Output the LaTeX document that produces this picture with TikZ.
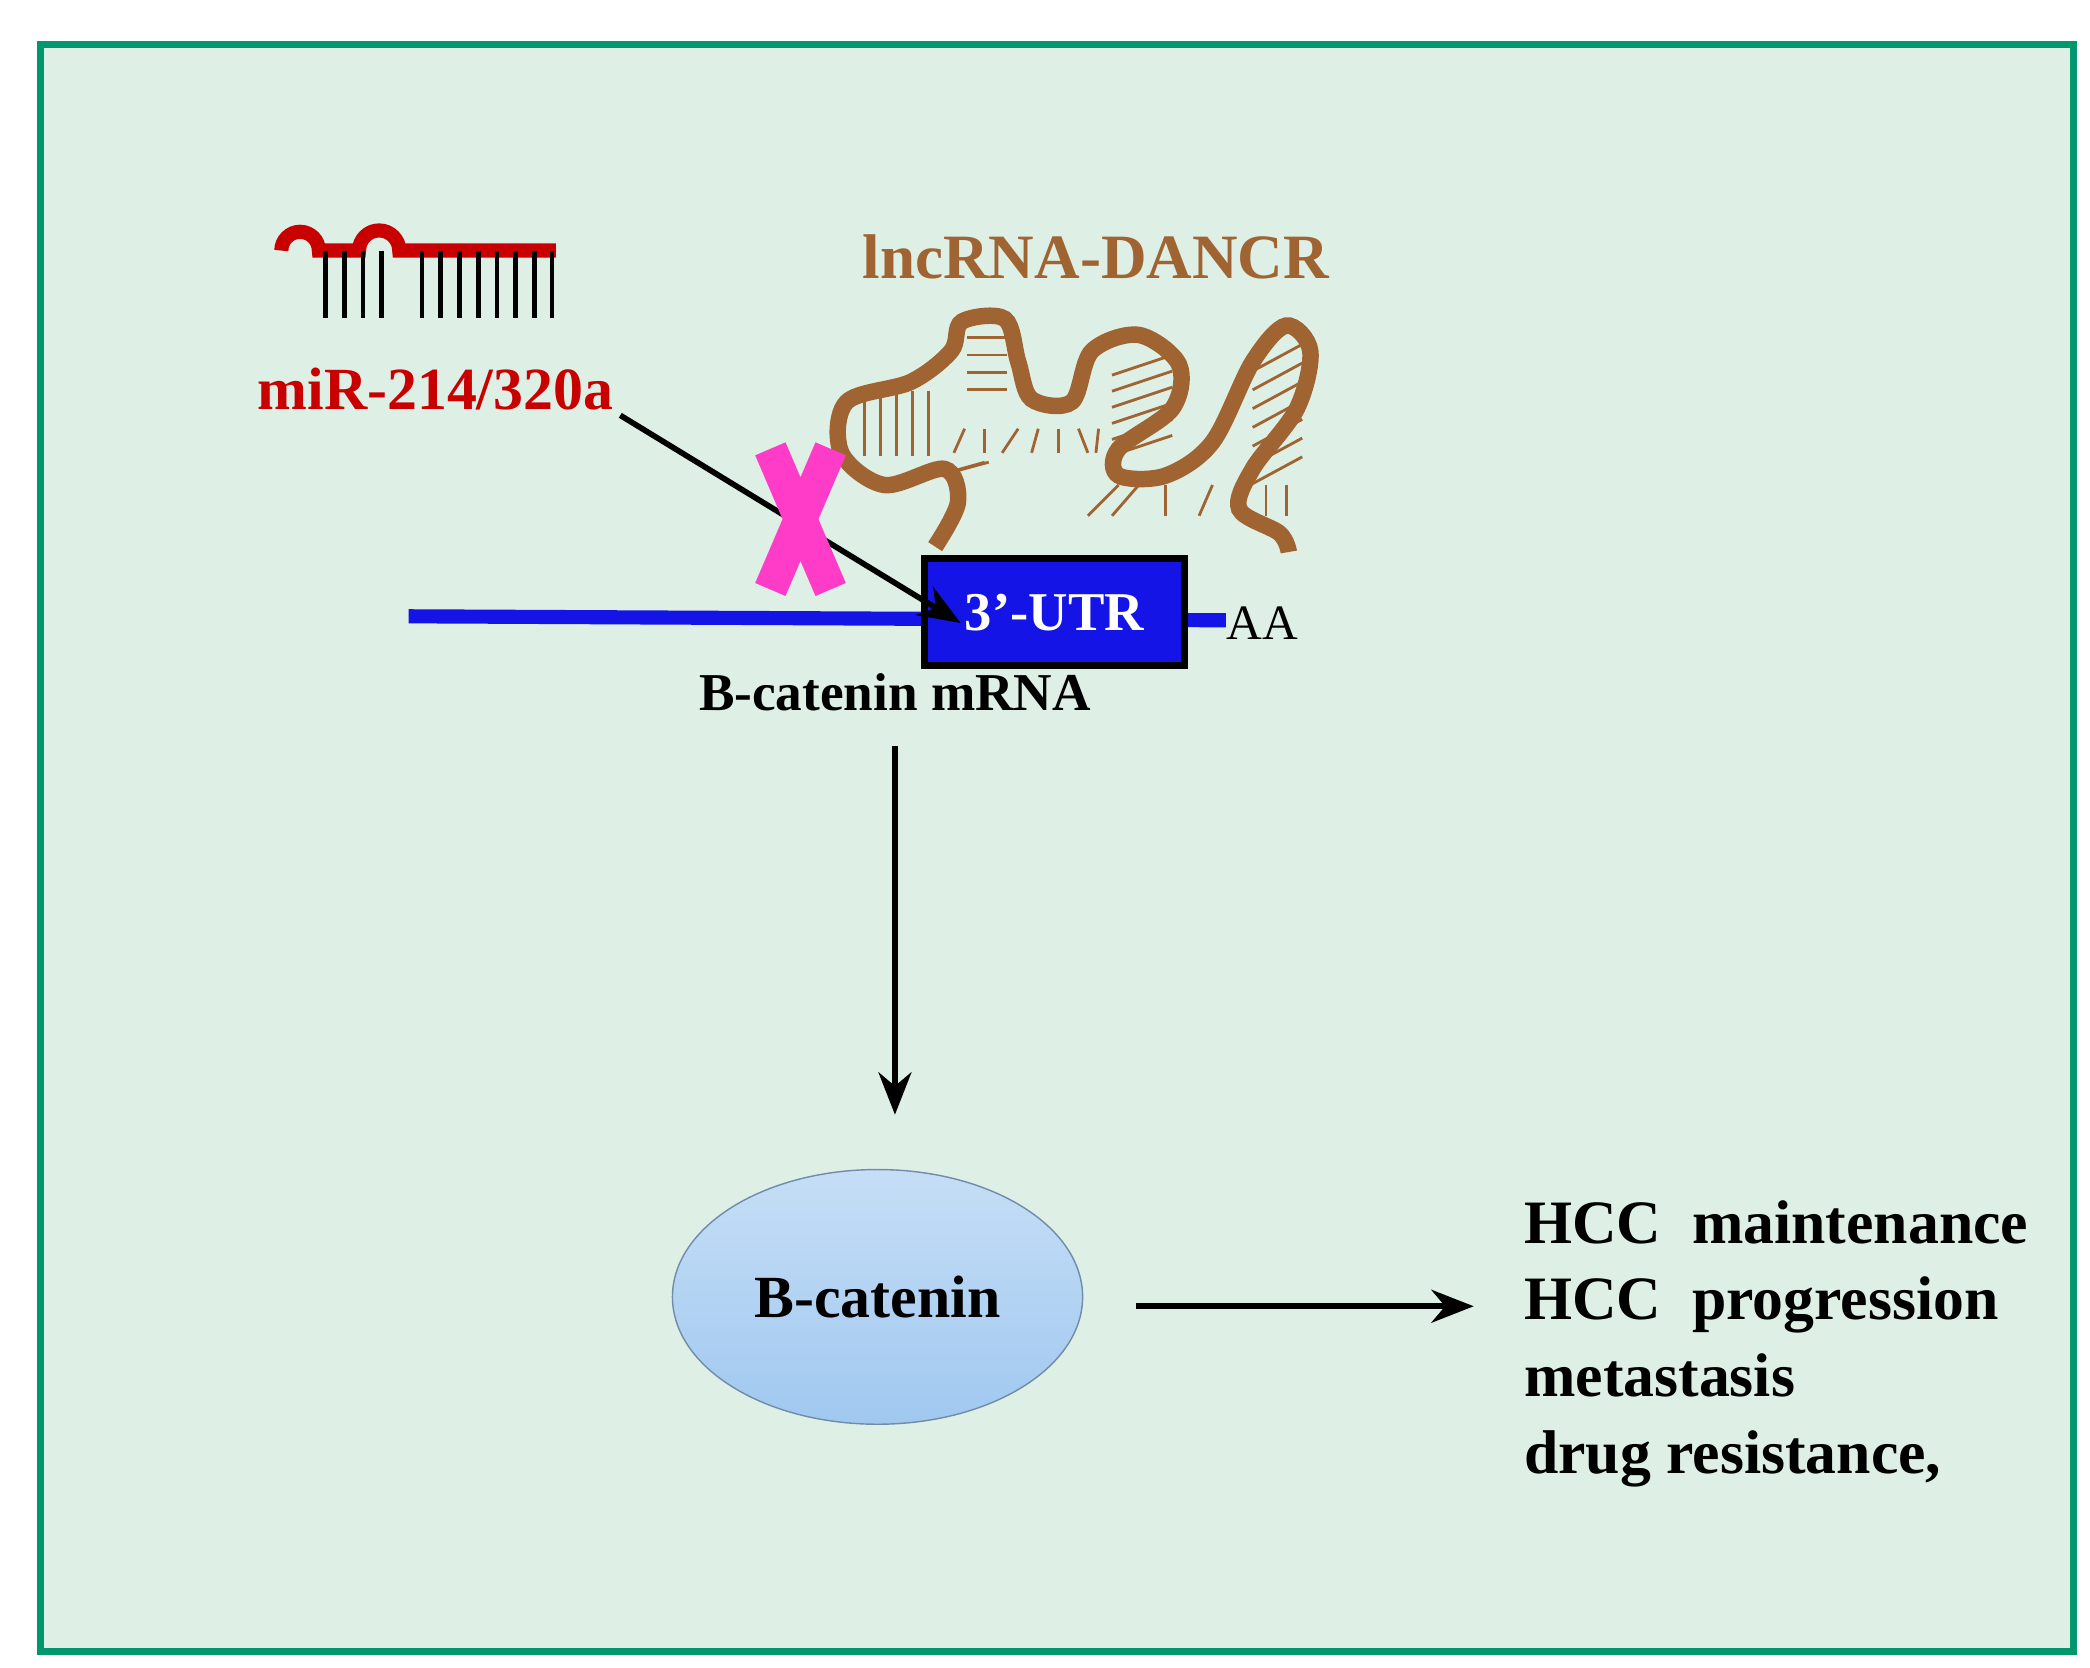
\documentclass[tikz,border=0pt]{standalone}
\usepackage{fontspec}
\setmainfont{Liberation Serif}
\usetikzlibrary{shapes.geometric,arrows.meta}
\definecolor{bgmint}{RGB}{222,240,230}
\definecolor{framegreen}{RGB}{0,150,110}
\definecolor{rnabrown}{RGB}{160,100,50}
\definecolor{mirred}{RGB}{200,0,0}
\definecolor{utrblue}{RGB}{20,20,230}
\definecolor{xpink}{RGB}{255,60,200}
\definecolor{cellblue}{RGB}{160,200,240}
\tikzset{
  lbl/.style={font=\bfseries, inner sep=1pt},
  arr/.style={-{Stealth[length=9pt,width=7pt]}, line width=1.2pt},
  hatch/.style={rnabrown, line width=0.6pt},
}
\begin{document}
\begin{tikzpicture}[x=0.01cm, y=-0.01cm]
        % Frame
        \useasboundingbox (0,0) rectangle (1560,1245);
        \draw[framegreen, line width=1.5pt, fill=bgmint] (30,33) rectangle (1548,1233);

        % miRNA
        \draw[mirred, line width=3pt] (210,187) arc (180:360:14) -- (268,187)
          arc (180:360:15) -- (415,187);
        \foreach \x in {243,257,271,285,315,329,343,357,371,385,399,412}
          \draw[line width=1pt] (\x,187) -- (\x,237);
        \node[lbl, text=mirred, font=\bfseries\fontsize{12.7}{13}\selectfont] (mir) at (325,290) {miR-214/320a};

        % lncRNA
        \node[lbl, text=rnabrown, font=\bfseries\fontsize{13.4}{14}\selectfont] (dancr) at (818,192) {lncRNA-DANCR};
        \foreach \x in {645,657,669,681,693} \draw[hatch] (\x,292) -- (\x,340);
        \foreach \y in {252,265,278,291} \draw[hatch] (722,\y) -- (752,\y);
        \foreach \y in {270,282,294,306,318,330} \draw[hatch] (830,\y+10) -- (875,\y-5);
        \foreach \y in {262,276,290,304,318,332,346} \draw[hatch] (935,\y+15) -- (972,\y-5);
        \draw[rnabrown, line width=3.5pt] plot[smooth, tension=0.55] coordinates {
          (698,408) (715,375) (705,350) (660,362) (628,338) (632,300) (680,285)
          (710,262) (718,240) (750,238) (760,270) (770,298) (800,300)
          (815,262) (850,250) (880,272) (875,305) (835,335) (835,355)
          (870,355) (905,330) (935,270) (960,243) (978,262) (968,305)
          (935,350) (925,380) (955,398) (962,412)};
        \foreach \a/\b in {720/712,735/735,760/748,775/770,790/790,805/812,820/818}
          \draw[hatch] (\a,320) -- (\b,338);
        \foreach \a/\b in {710/735,712/738,835/812,850/830,870/870,905/895,945/945,960/960}
          \draw[hatch] (\a,\ifnum\a<800 352\else 362\fi) -- (\b,\ifnum\a<800 345\else 385\fi);

        % mRNA
        \coordinate (mstart) at (305,460);
        \coordinate (mend) at (915,463);
        \draw[utrblue, line width=3pt] (mstart) -- (mend);
        \node[draw=black, line width=1.5pt, fill=utrblue, minimum width=1.94cm, minimum height=0.8cm,
          text=white, lbl, font=\bfseries\fontsize{11.6}{12}\selectfont] (utr) at (787,457) {3’-UTR};
        \node[font=\fontsize{10.5}{11}\selectfont, anchor=west, inner sep=0pt] (aa) at (915,465) {AA};
        \node[lbl, font=\bfseries\fontsize{11.3}{12}\selectfont] (mrna) at (668,517) {B-catenin mRNA};

        % Blocked binding
        \coordinate (hit) at (717,465);
        \draw[arr] (463,310) -- (hit);
        \node (block) at (597,385) {};
        \draw[xpink, line width=7pt] (575,335) -- (620,440) (620,335) -- (575,440);

        % Protein
        \node[ellipse, minimum width=3.06cm, minimum height=1.9cm, draw=cellblue!70!black, line width=0.3pt,
          top color=cellblue!60!white, bottom color=cellblue, lbl,
          font=\bfseries\fontsize{12.7}{13}\selectfont] (bcat) at (655,968) {B-catenin};
        \coordinate (mrnaout) at (668,557);
        \coordinate (bcatin) at (668,832);
        \draw[arr] (mrnaout) -- (bcatin);

        % Outcomes
        \node[anchor=west, align=left, lbl, inner sep=0pt, font=\bfseries\fontsize{13.1}{16.3}\selectfont] (effects) at (1137,1003)
          {HCC\ \ maintenance\\HCC\ \ progression\\metastasis\\drug resistance,};
        \coordinate (bout) at (848,975);
        \coordinate (ein) at (1100,975);
        \draw[arr] (bout) -- (ein);
\end{tikzpicture}
\end{document}
